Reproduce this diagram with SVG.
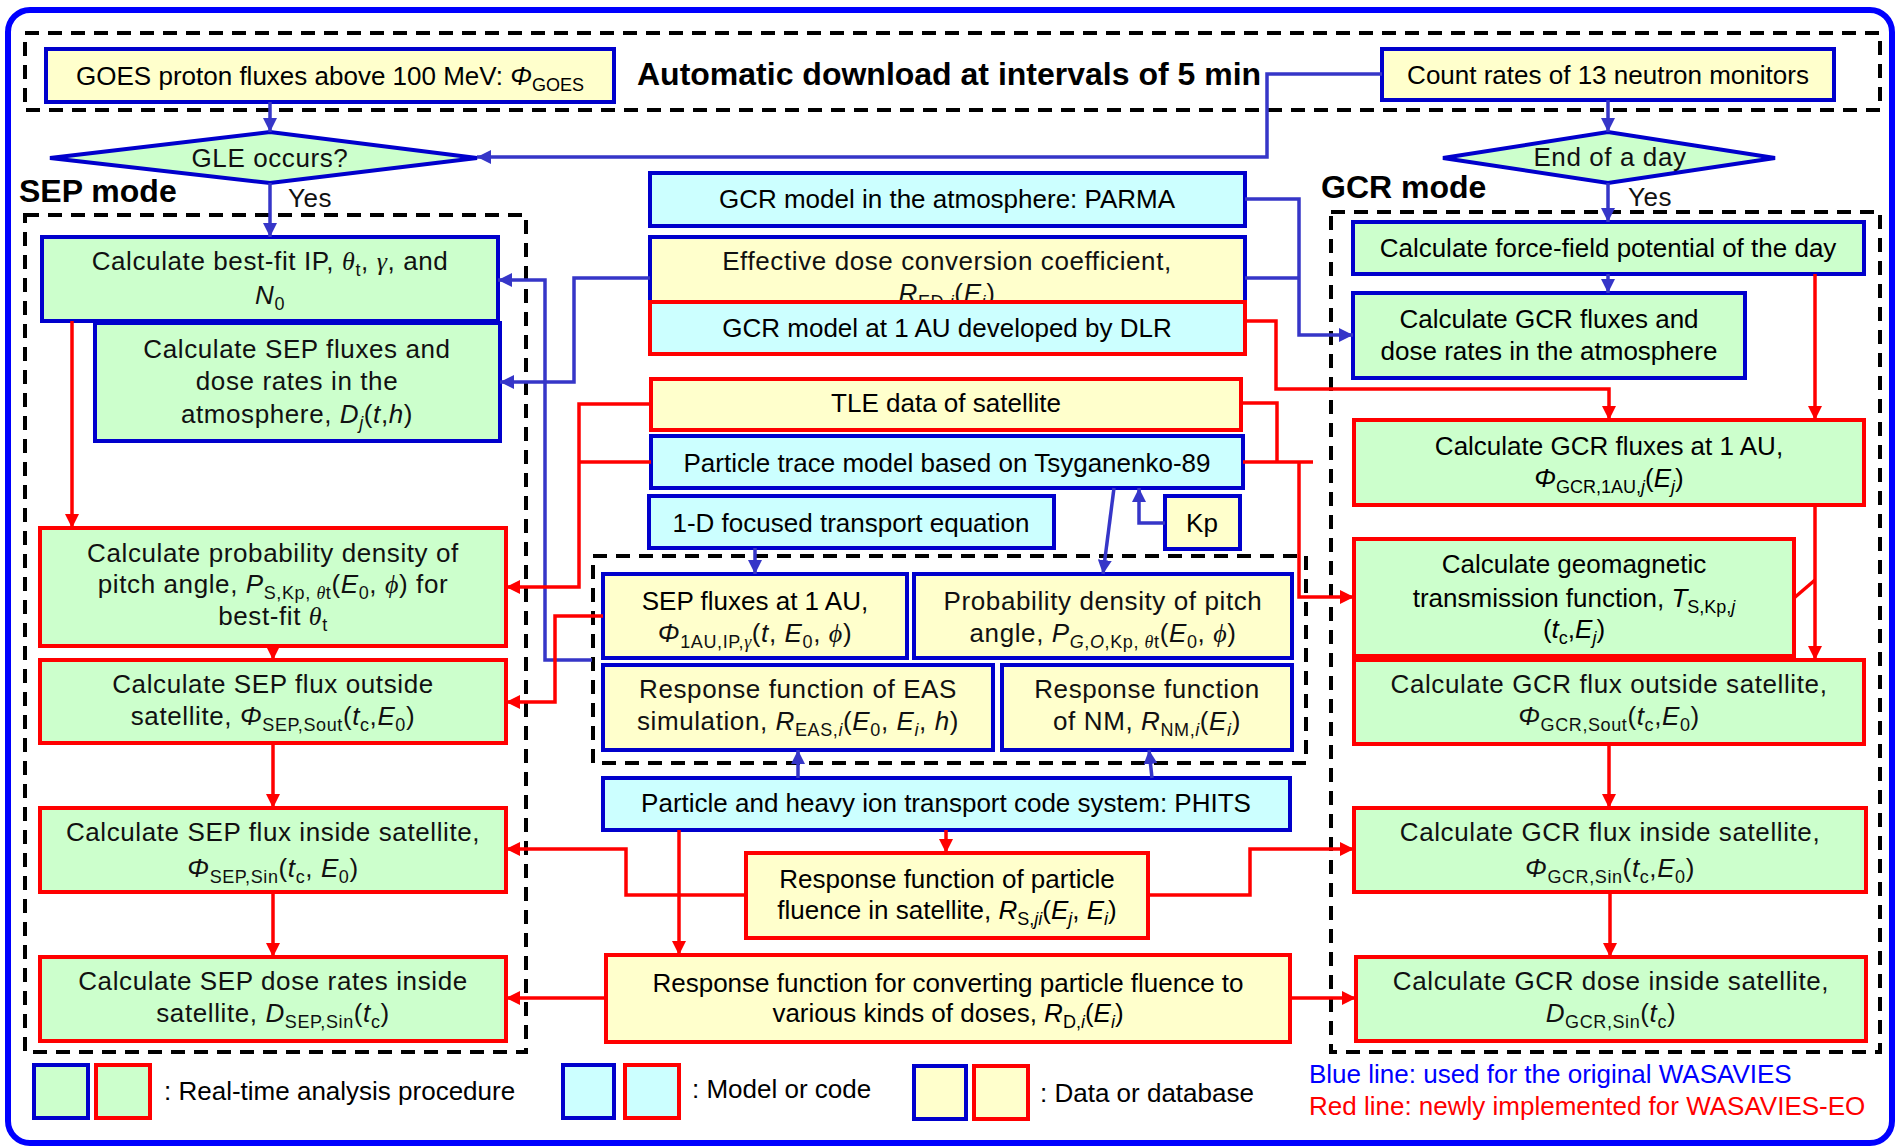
<svg xmlns="http://www.w3.org/2000/svg" width="1898" height="1148" viewBox="0 0 1898 1148">
<defs>
<style>
.bx{stroke-width:4}
.bl{stroke:#0000cc}.rd{stroke:#ff0000}
.g{fill:#ccffcc}.c{fill:#ccffff}.y{fill:#ffffcc}
.dash{fill:none;stroke:#000;stroke-width:4;stroke-dasharray:14 9}
.cb{fill:none;stroke:#3636c8;stroke-width:3.5}
.cr{fill:none;stroke:#ff0000;stroke-width:3.5}
text{font-family:"Liberation Sans",Arial,sans-serif;font-size:26px;fill:#000}
.b{letter-spacing:0.6px;fill:#111}
.s{font-size:18px}
.i{font-style:italic}
.gk{font-family:"Liberation Serif","Times New Roman",serif;font-style:italic}
.hd{font-weight:bold;font-size:32px}
</style>
<marker id="ab" viewBox="0 0 14 14" refX="14" refY="7" markerWidth="14" markerHeight="14" markerUnits="userSpaceOnUse" orient="auto"><path d="M0,0 L14,7 L0,14 z" fill="#3636c8"/></marker>
<marker id="ar" viewBox="0 0 14 14" refX="14" refY="7" markerWidth="14" markerHeight="14" markerUnits="userSpaceOnUse" orient="auto"><path d="M0,0 L14,7 L0,14 z" fill="#ff0000"/></marker>
</defs>
<rect x="0" y="0" width="1898" height="1148" fill="#fff"/>
<rect x="8" y="10" width="1884" height="1133" rx="22" fill="none" stroke="#0000ff" stroke-width="6"/>

<g id="frames">
<rect class="dash" x="25" y="33" width="1855" height="77"/>
<rect class="dash" x="25" y="215" width="501" height="837"/>
<rect class="dash" x="1331" y="212" width="549" height="840"/>
<rect class="dash" x="593" y="556" width="713" height="207"/>
<text class="hd" x="637" y="85">Automatic download at intervals of 5 min</text>
<text class="hd" x="19" y="202">SEP mode</text>
<text class="hd" x="1321" y="198">GCR mode</text>
<text class="b" x="288" y="207">Yes</text>
<text class="b" x="1628" y="206">Yes</text>
</g>

<g id="n-goes"><rect class="bx bl y" x="46" y="49" width="568" height="53"/>
<text x="330" y="85" text-anchor="middle">GOES proton fluxes above 100 MeV: <tspan class="i">Φ</tspan><tspan class="s" dy="6">GOES</tspan></text></g>
<g id="n-count"><rect class="bx bl y" x="1382" y="49" width="452" height="51"/>
<text x="1608" y="84" text-anchor="middle">Count rates of 13 neutron monitors</text></g>
<g id="n-gle"><polygon class="bx bl g" points="50,158 270,132 477,158 270,183"/>
<text class="b" x="270" y="167" text-anchor="middle">GLE occurs?</text></g>
<g id="n-endday"><polygon class="bx bl g" points="1443,158 1608,132 1775,158 1608,183"/>
<text class="b" x="1610" y="166" text-anchor="middle">End of a day</text></g>

<g id="n-bestfit"><rect class="bx bl g" x="42" y="237" width="456" height="84"/>
<text class="b" x="270" y="270" text-anchor="middle">Calculate best-fit IP, <tspan class="gk">θ</tspan><tspan class="s" dy="6">t</tspan><tspan dy="-6">, </tspan><tspan class="gk">γ</tspan>, and</text>
<text class="b" x="270" y="304" text-anchor="middle"><tspan class="i">N</tspan><tspan class="s" dy="6">0</tspan></text></g>
<g id="n-sepatm"><rect class="bx bl g" x="95" y="323" width="405" height="118"/>
<text class="b" x="297" y="358" text-anchor="middle">Calculate SEP fluxes and</text>
<text class="b" x="297" y="390" text-anchor="middle">dose rates in the</text>
<text class="b" x="297" y="423" text-anchor="middle">atmosphere, <tspan class="i">D</tspan><tspan class="s i" dy="6">j</tspan><tspan dy="-6">(</tspan><tspan class="i">t</tspan>,<tspan class="i">h</tspan>)</text></g>
<g id="n-sepprob"><rect class="bx rd g" x="40" y="528" width="466" height="118"/>
<text class="b" x="273" y="562" text-anchor="middle">Calculate probability density of</text>
<text class="b" x="273" y="593" text-anchor="middle">pitch angle, <tspan class="i">P</tspan><tspan class="s" dy="6">S,Kp, <tspan class="gk">θ</tspan>t</tspan><tspan dy="-6">(</tspan><tspan class="i">E</tspan><tspan class="s" dy="6">0</tspan><tspan dy="-6">, </tspan><tspan class="gk">ϕ</tspan>) for</text>
<text class="b" x="273" y="625" text-anchor="middle">best-fit <tspan class="gk">θ</tspan><tspan class="s" dy="6">t</tspan></text></g>
<g id="n-sepout"><rect class="bx rd g" x="40" y="660" width="466" height="83"/>
<text class="b" x="273" y="693" text-anchor="middle">Calculate SEP flux outside</text>
<text class="b" x="273" y="725" text-anchor="middle">satellite, <tspan class="i">Φ</tspan><tspan class="s" dy="6">SEP,Sout</tspan><tspan dy="-6">(</tspan><tspan class="i">t</tspan><tspan class="s" dy="6">c</tspan><tspan dy="-6">,</tspan><tspan class="i">E</tspan><tspan class="s" dy="6">0</tspan><tspan dy="-6">)</tspan></text></g>
<g id="n-sepin"><rect class="bx rd g" x="40" y="808" width="466" height="84"/>
<text class="b" x="273" y="841" text-anchor="middle">Calculate SEP flux inside satellite,</text>
<text class="b" x="273" y="877" text-anchor="middle"><tspan class="i">Φ</tspan><tspan class="s" dy="6">SEP,Sin</tspan><tspan dy="-6">(</tspan><tspan class="i">t</tspan><tspan class="s" dy="6">c</tspan><tspan dy="-6">, </tspan><tspan class="i">E</tspan><tspan class="s" dy="6">0</tspan><tspan dy="-6">)</tspan></text></g>
<g id="n-sepdose"><rect class="bx rd g" x="40" y="957" width="466" height="84"/>
<text class="b" x="273" y="990" text-anchor="middle">Calculate SEP dose rates inside</text>
<text class="b" x="273" y="1022" text-anchor="middle">satellite, <tspan class="i">D</tspan><tspan class="s" dy="6">SEP,Sin</tspan><tspan dy="-6">(</tspan><tspan class="i">t</tspan><tspan class="s" dy="6">c</tspan><tspan dy="-6">)</tspan></text></g>

<g id="n-parma"><rect class="bx bl c" x="650" y="173" width="595" height="53"/>
<text x="947" y="208" text-anchor="middle">GCR model in the atmosphere: PARMA</text></g>
<g id="n-effdose"><rect class="bx bl y" x="650" y="237" width="595" height="80"/>
<text class="b" x="947" y="270" text-anchor="middle">Effective dose conversion coefficient,</text>
<text class="b" x="947" y="302" text-anchor="middle"><tspan class="i">R</tspan><tspan class="s" dy="6">ED,<tspan class="i">i</tspan></tspan><tspan dy="-6">(</tspan><tspan class="i">E</tspan><tspan class="s i" dy="6">i</tspan><tspan dy="-6">)</tspan></text></g>
<g id="n-dlr"><rect class="bx rd c" x="650" y="302" width="595" height="52"/>
<text x="947" y="337" text-anchor="middle">GCR model at 1 AU developed by DLR</text></g>
<g id="n-tle"><rect class="bx rd y" x="651" y="379" width="590" height="51"/>
<text x="946" y="412" text-anchor="middle">TLE data of satellite</text></g>
<g id="n-trace"><rect class="bx bl c" x="651" y="436" width="592" height="52"/>
<text x="947" y="472" text-anchor="middle">Particle trace model based on Tsyganenko-89</text></g>
<g id="n-focused"><rect class="bx bl c" x="649" y="496" width="405" height="52"/>
<text x="851" y="532" text-anchor="middle">1-D focused transport equation</text></g>
<g id="n-kp"><rect class="bx bl y" x="1165" y="496" width="75" height="53"/>
<text x="1202" y="532" text-anchor="middle">Kp</text></g>
<g id="n-sep1au"><rect class="bx bl y" x="603" y="574" width="304" height="84"/>
<text x="755" y="610" text-anchor="middle">SEP fluxes at 1 AU,</text>
<text class="b" x="755" y="642" text-anchor="middle"><tspan class="i">Φ</tspan><tspan class="s" dy="6">1AU,IP,<tspan class="gk">γ</tspan></tspan><tspan dy="-6">(</tspan><tspan class="i">t</tspan>, <tspan class="i">E</tspan><tspan class="s" dy="6">0</tspan><tspan dy="-6">, </tspan><tspan class="gk">ϕ</tspan>)</text></g>
<g id="n-pitch"><rect class="bx bl y" x="914" y="574" width="378" height="84"/>
<text class="b" x="1103" y="610" text-anchor="middle">Probability density of pitch</text>
<text class="b" x="1103" y="642" text-anchor="middle">angle, <tspan class="i">P</tspan><tspan class="s" dy="6"><tspan class="i">G</tspan>,<tspan class="i">O</tspan>,Kp, <tspan class="gk">θ</tspan>t</tspan><tspan dy="-6">(</tspan><tspan class="i">E</tspan><tspan class="s" dy="6">0</tspan><tspan dy="-6">, </tspan><tspan class="gk">ϕ</tspan>)</text></g>
<g id="n-eas"><rect class="bx bl y" x="603" y="665" width="390" height="85"/>
<text class="b" x="798" y="698" text-anchor="middle">Response function of EAS</text>
<text class="b" x="798" y="730" text-anchor="middle">simulation, <tspan class="i">R</tspan><tspan class="s" dy="6">EAS,<tspan class="i">i</tspan></tspan><tspan dy="-6">(</tspan><tspan class="i">E</tspan><tspan class="s" dy="6">0</tspan><tspan dy="-6">, </tspan><tspan class="i">E</tspan><tspan class="s i" dy="6">i</tspan><tspan dy="-6">, </tspan><tspan class="i">h</tspan>)</text></g>
<g id="n-nm"><rect class="bx bl y" x="1002" y="665" width="290" height="85"/>
<text class="b" x="1147" y="698" text-anchor="middle">Response function</text>
<text class="b" x="1147" y="730" text-anchor="middle">of NM, <tspan class="i">R</tspan><tspan class="s" dy="6">NM,<tspan class="i">i</tspan></tspan><tspan dy="-6">(</tspan><tspan class="i">E</tspan><tspan class="s i" dy="6">i</tspan><tspan dy="-6">)</tspan></text></g>
<g id="n-phits"><rect class="bx bl c" x="603" y="778" width="687" height="52"/>
<text x="946" y="812" text-anchor="middle">Particle and heavy ion transport code system: PHITS</text></g>
<g id="n-rs"><rect class="bx rd y" x="746" y="853" width="402" height="85"/>
<text x="947" y="888" text-anchor="middle">Response function of particle</text>
<text x="947" y="919" text-anchor="middle">fluence in satellite, <tspan class="i">R</tspan><tspan class="s" dy="6">S,<tspan class="i">ji</tspan></tspan><tspan dy="-6">(</tspan><tspan class="i">E</tspan><tspan class="s i" dy="6">j</tspan><tspan dy="-6">, </tspan><tspan class="i">E</tspan><tspan class="s i" dy="6">i</tspan><tspan dy="-6">)</tspan></text></g>
<g id="n-rd"><rect class="bx rd y" x="606" y="955" width="684" height="87"/>
<text x="948" y="992" text-anchor="middle">Response function for converting particle fluence to</text>
<text x="948" y="1022" text-anchor="middle">various kinds of doses, <tspan class="i">R</tspan><tspan class="s" dy="6">D,<tspan class="i">i</tspan></tspan><tspan dy="-6">(</tspan><tspan class="i">E</tspan><tspan class="s i" dy="6">i</tspan><tspan dy="-6">)</tspan></text></g>

<g id="n-force"><rect class="bx bl g" x="1353" y="222" width="511" height="52"/>
<text x="1608" y="257" text-anchor="middle">Calculate force-field potential of the day</text></g>
<g id="n-gcratm"><rect class="bx bl g" x="1353" y="293" width="392" height="85"/>
<text x="1549" y="328" text-anchor="middle">Calculate GCR fluxes and</text>
<text x="1549" y="360" text-anchor="middle">dose rates in the atmosphere</text></g>
<g id="n-gcr1au"><rect class="bx rd g" x="1354" y="420" width="510" height="85"/>
<text x="1609" y="455" text-anchor="middle">Calculate GCR fluxes at 1 AU,</text>
<text x="1609" y="487" text-anchor="middle"><tspan class="i">Φ</tspan><tspan class="s" dy="6">GCR,1AU,<tspan class="i">j</tspan></tspan><tspan dy="-6">(</tspan><tspan class="i">E</tspan><tspan class="s i" dy="6">j</tspan><tspan dy="-6">)</tspan></text></g>
<g id="n-geomag"><rect class="bx rd g" x="1354" y="539" width="440" height="117"/>
<text x="1574" y="573" text-anchor="middle">Calculate geomagnetic</text>
<text x="1574" y="607" text-anchor="middle">transmission function, <tspan class="i">T</tspan><tspan class="s" dy="6">S,Kp,<tspan class="i">j</tspan></tspan></text>
<text x="1574" y="638" text-anchor="middle">(<tspan class="i">t</tspan><tspan class="s" dy="6">c</tspan><tspan dy="-6">,</tspan><tspan class="i">E</tspan><tspan class="s i" dy="6">j</tspan><tspan dy="-6">)</tspan></text></g>
<g id="n-gcrout"><rect class="bx rd g" x="1354" y="660" width="510" height="84"/>
<text class="b" x="1609" y="693" text-anchor="middle">Calculate GCR flux outside satellite,</text>
<text class="b" x="1609" y="725" text-anchor="middle"><tspan class="i">Φ</tspan><tspan class="s" dy="6">GCR,Sout</tspan><tspan dy="-6">(</tspan><tspan class="i">t</tspan><tspan class="s" dy="6">c</tspan><tspan dy="-6">,</tspan><tspan class="i">E</tspan><tspan class="s" dy="6">0</tspan><tspan dy="-6">)</tspan></text></g>
<g id="n-gcrin"><rect class="bx rd g" x="1354" y="808" width="512" height="84"/>
<text class="b" x="1610" y="841" text-anchor="middle">Calculate GCR flux inside satellite,</text>
<text class="b" x="1610" y="877" text-anchor="middle"><tspan class="i">Φ</tspan><tspan class="s" dy="6">GCR,Sin</tspan><tspan dy="-6">(</tspan><tspan class="i">t</tspan><tspan class="s" dy="6">c</tspan><tspan dy="-6">,</tspan><tspan class="i">E</tspan><tspan class="s" dy="6">0</tspan><tspan dy="-6">)</tspan></text></g>
<g id="n-gcrdose"><rect class="bx rd g" x="1356" y="957" width="510" height="84"/>
<text class="b" x="1611" y="990" text-anchor="middle">Calculate GCR dose inside satellite,</text>
<text class="b" x="1611" y="1022" text-anchor="middle"><tspan class="i">D</tspan><tspan class="s" dy="6">GCR,Sin</tspan><tspan dy="-6">(</tspan><tspan class="i">t</tspan><tspan class="s" dy="6">c</tspan><tspan dy="-6">)</tspan></text></g>

<g id="connectors">
<path class="cb" marker-end="url(#ab)" d="M270,102 V132"/>
<path class="cb" marker-end="url(#ab)" d="M1382,74 H1267 V157 H477"/>
<path class="cb" marker-end="url(#ab)" d="M270,183 V237"/>
<path class="cb" marker-end="url(#ab)" d="M1608,100 V132"/>
<path class="cb" marker-end="url(#ab)" d="M1608,183 V222"/>
<path class="cb" marker-end="url(#ab)" d="M1608,274 V293"/>
<path class="cb" marker-end="url(#ab)" d="M1245,199 H1299 V335 H1353"/>
<path class="cb" d="M1245,278 H1299"/>
<path class="cb" marker-end="url(#ab)" d="M650,278 H574 V382 H500"/>
<path class="cb" marker-end="url(#ab)" d="M592,660 H545 V280 H498"/>
<path class="cb" marker-end="url(#ab)" d="M755,548 V574"/>
<path class="cb" marker-end="url(#ab)" d="M1114,488 L1103,574"/>
<path class="cb" marker-end="url(#ab)" d="M1165,523 H1139 V488"/>
<path class="cb" marker-end="url(#ab)" d="M798,778 V750"/>
<path class="cb" marker-end="url(#ab)" d="M1152,778 L1149,750"/>

<path class="cr" marker-end="url(#ar)" d="M72,321 V528"/>
<path class="cr" marker-end="url(#ar)" d="M651,404 H579 V587 H506"/>
<path class="cr" d="M651,462 H579"/>
<path class="cr" marker-end="url(#ar)" d="M603,616 H555 V702 H506"/>
<path class="cr" marker-end="url(#ar)" d="M273,646 V660"/>
<path class="cr" marker-end="url(#ar)" d="M273,743 V808"/>
<path class="cr" marker-end="url(#ar)" d="M273,892 V957"/>
<path class="cr" marker-end="url(#ar)" d="M746,895 H626 V849 H506"/>
<path class="cr" marker-end="url(#ar)" d="M1148,895 H1250 V849 H1354"/>
<path class="cr" marker-end="url(#ar)" d="M606,998 H506"/>
<path class="cr" marker-end="url(#ar)" d="M1290,998 H1356"/>
<path class="cr" marker-end="url(#ar)" d="M946,830 V853"/>
<path class="cr" marker-end="url(#ar)" d="M679,830 V955"/>
<path class="cr" marker-end="url(#ar)" d="M1245,321 H1276 V389 H1609 V420"/>
<path class="cr" marker-end="url(#ar)" d="M1815,274 V420"/>
<path class="cr" marker-end="url(#ar)" d="M1815,505 V660"/>
<path class="cr" d="M1794,598 L1815,580"/>
<path class="cr" d="M1241,403 H1277 V462"/>
<path class="cr" d="M1243,462 H1313"/>
<path class="cr" marker-end="url(#ar)" d="M1299,462 V597 H1354"/>
<path class="cr" marker-end="url(#ar)" d="M1609,744 V808"/>
<path class="cr" marker-end="url(#ar)" d="M1610,892 V957"/>
</g>

<g id="legend">
<rect class="bx bl g" x="34" y="1065" width="54" height="53"/>
<rect class="bx rd g" x="96" y="1065" width="54" height="53"/>
<text x="164" y="1100">: Real-time analysis procedure</text>
<rect class="bx bl c" x="563" y="1065" width="51" height="53"/>
<rect class="bx rd c" x="625" y="1065" width="54" height="53"/>
<text x="692" y="1098">: Model or code</text>
<rect class="bx bl y" x="914" y="1066" width="52" height="53"/>
<rect class="bx rd y" x="974" y="1066" width="54" height="53"/>
<text x="1040" y="1102">: Data or database</text>
<text x="1309" y="1083" style="fill:#0000ff">Blue line: used for the original WASAVIES</text>
<text x="1309" y="1115" style="fill:#ff0000">Red line: newly implemented for WASAVIES-EO</text>
</g>
</svg>
